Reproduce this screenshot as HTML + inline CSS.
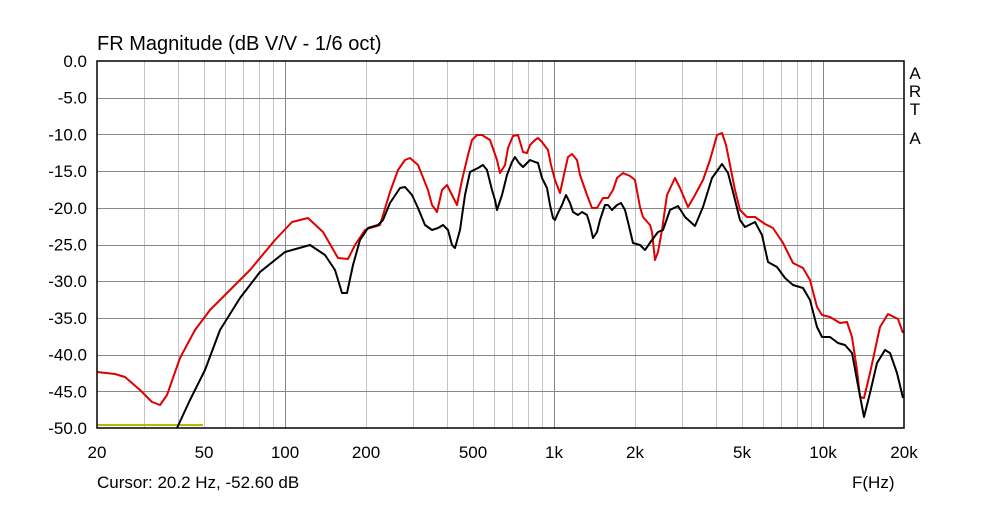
<!DOCTYPE html>
<html><head><style>
body{margin:0;background:#fff;}
svg text{font-family:"Liberation Sans",Arial,sans-serif;fill:#000;}
</style></head><body>
<svg id="s" width="1000" height="500" xmlns="http://www.w3.org/2000/svg">
<rect width="1000" height="500" fill="#fff"/>
<g id="grid"></g>
<text x="97" y="50" font-size="20">FR Magnitude (dB V/V - 1/6 oct)</text>
<g id="lbl" font-size="17"></g>
<text x="97" y="488" font-size="17">Cursor: 20.2 Hz, -52.60 dB</text>
<text x="852" y="488" font-size="17">F(Hz)</text>
<g font-size="17" text-anchor="middle"><text x="915" y="79">A</text><text x="915" y="97">R</text><text x="915" y="115">T</text><text x="915" y="144">A</text></g>
<line x1="97" y1="425" x2="203" y2="425" stroke="#b8b800" stroke-width="2"/>
<polyline fill="none" stroke="#e00000" stroke-width="2" stroke-linejoin="round" points="97,372 115,374 125,377 140,390 152,402 160,405 167,395 180,358 195,330 210,310 230,290 250,270 275,240 292,222 308,218 323,232 338,258 348,259 355,245 365,230 370,228 380,225 390,192 398,170 405,160 410,158 418,165 428,190 432,205 437,212 442,190 447,185 452,195 457,205 462,180 468,155 472,140 477,135 482,135 490,140 497,160 500,173 505,165 508,148 513,136 518,135 523,152 527,153 530,145 535,140 538,138 542,142 548,150 551,165 555,180 560,193 565,170 568,157 572,154 577,160 580,175 587,195 592,208 597,208 603,198 608,198 613,190 617,178 623,173 630,176 635,180 640,207 643,217 650,225 652,232 655,260 658,252 662,230 667,195 675,178 680,188 688,207 695,195 703,180 710,160 717,135 722,133 726,145 730,165 735,190 740,210 747,217 755,217 765,224 773,228 783,243 793,263 803,268 810,280 817,307 822,315 830,317 840,323 847,322 852,337 857,370 860,397 864,398 870,373 880,327 888,314 898,319 903,333"/>
<polyline fill="none" stroke="#000" stroke-width="2" stroke-linejoin="round" points="177,428 190,400 205,370 220,330 240,298 260,272 285,252 310,245 325,255 335,270 342,293 347,293 353,265 360,240 368,228 378,225 383,220 390,203 400,188 405,187 412,195 418,208 425,225 432,230 438,228 443,225 448,230 452,245 455,248 460,230 465,195 470,172 478,168 483,165 487,170 492,190 495,200 497,210 502,195 507,175 512,162 515,157 519,163 523,167 527,163 530,160 535,162 538,163 542,178 547,188 550,205 553,218 555,220 558,213 562,205 566,195 570,203 573,212 578,215 582,212 587,215 590,225 593,238 597,232 600,220 605,205 608,205 612,210 617,205 621,203 625,210 628,222 633,243 640,245 645,250 652,240 658,232 663,230 670,210 678,206 685,217 695,226 703,207 712,178 722,164 728,173 733,192 740,220 745,227 755,222 762,235 768,262 777,267 785,278 793,285 803,288 810,300 817,327 822,337 830,337 838,343 845,345 852,353 857,380 864,417 870,393 877,363 885,350 890,353 897,373 903,398"/>
<rect x="97" y="61" width="807" height="367" fill="none" stroke="#000" stroke-width="1.5"/>
</svg>
<script>
var ns="http://www.w3.org/2000/svg",g=document.getElementById("grid"),l=document.getElementById("lbl");
function X(f){return 97+269*Math.log10(f/20);}
function ln(x1,y1,x2,y2,c){var e=document.createElementNS(ns,"line");e.setAttribute("x1",x1);e.setAttribute("y1",y1);e.setAttribute("x2",x2);e.setAttribute("y2",y2);e.setAttribute("stroke",c);e.setAttribute("stroke-width",1);g.appendChild(e);}
function tx(x,y,t,a){var e=document.createElementNS(ns,"text");e.setAttribute("x",x);e.setAttribute("y",y);e.setAttribute("text-anchor",a);e.textContent=t;l.appendChild(e);}
[10,100,1000,10000].forEach(function(d){for(var m=1;m<10;m++){var f=d*m;if(f<=20||f>=20000)continue;var x=Math.round(X(f))+0.5;ln(x,61,x,428,m==1?"#888":"#c4c4c4");}});
for(var i=1;i<10;i++){var y=Math.round(61+i*36.7)+0.5;ln(97,y,904,y,"#888");}
for(var i=0;i<=10;i++){var v=-5*i;tx(87,67+i*36.7,(i==0?"0.0":v.toFixed(1)),"end");}
[[20,"20"],[50,"50"],[100,"100"],[200,"200"],[500,"500"],[1000,"1k"],[2000,"2k"],[5000,"5k"],[10000,"10k"],[20000,"20k"]].forEach(function(p){tx(X(p[0]),458,p[1],"middle");});
</script>
</body></html>
